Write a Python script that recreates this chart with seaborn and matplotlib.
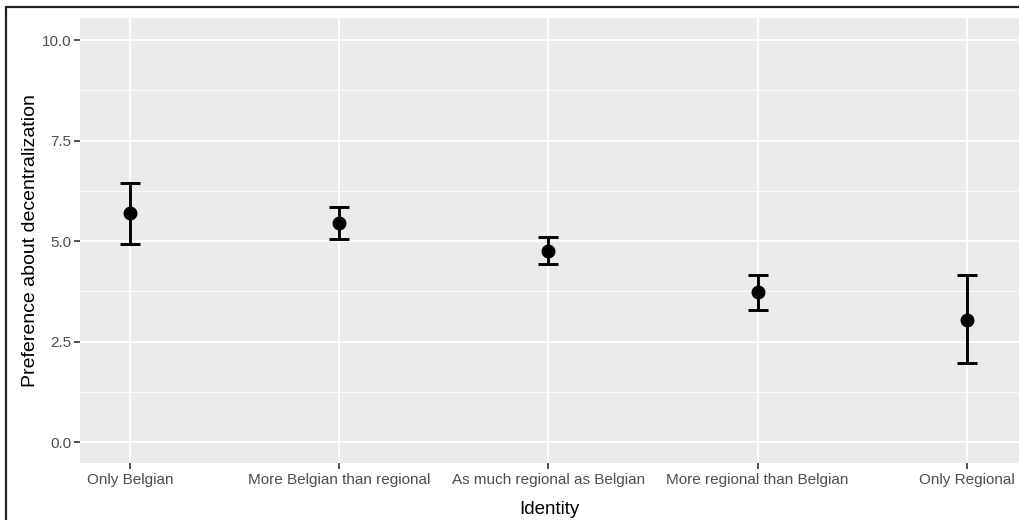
import matplotlib
matplotlib.use("Agg")
import matplotlib.pyplot as plt
from matplotlib.lines import Line2D
from matplotlib.ticker import MultipleLocator
import seaborn as sns
import pandas as pd
import numpy as np

categories = ["Only Belgian", "More Belgian than regional", "As much regional as Belgian",
              "More regional than Belgian", "Only Regional"]
means = [5.69, 5.45, 4.75, 3.73, 3.04]
lower = [4.93, 5.04, 4.43, 3.29, 1.96]
upper = [6.45, 5.86, 5.10, 4.15, 4.15]
yticks = [0.0, 2.5, 5.0, 7.5, 10.0]

sns.set_theme(style="darkgrid", rc={
    "axes.facecolor": "#EBEBEB",
    "grid.color": "white",
    "axes.edgecolor": "#EBEBEB",
    "xtick.bottom": True,
    "ytick.left": True,
})
plt.rcParams["font.family"] = ["Liberation Sans", "DejaVu Sans"]

df = pd.DataFrame({"Identity": categories, "mean": means, "lo": lower, "hi": upper})

fig = plt.figure(figsize=(10.19, 5.20), dpi=100)
W, H = 1019, 520
ax = fig.add_axes([80 / W, 1 - 463 / H, (1019 - 80) / W, (463 - 18) / H])

sns.pointplot(data=df, x="Identity", y="mean", order=categories, color="black",
              linestyle="none", errorbar=None, markersize=8, ax=ax, zorder=4)
pos = np.arange(len(categories))
m = df["mean"].to_numpy()
ax.errorbar(pos, m, yerr=[m - df["lo"].to_numpy(), df["hi"].to_numpy() - m],
            fmt="none", ecolor="black", elinewidth=2.1, capsize=7.2, capthick=2.1, zorder=3)

ax.set_xlim(-0.239, 4.249)
ax.set_ylim(-0.52, 10.55)
ax.set_yticks(yticks)
ax.set_yticklabels([f"{v:.1f}" for v in yticks])
ax.yaxis.set_minor_locator(MultipleLocator(1.25))
ax.grid(True, which="major", color="white", linewidth=1.3)
ax.grid(True, which="minor", axis="y", color="white", linewidth=0.6)
ax.set_axisbelow(True)
for s in ax.spines.values():
    s.set_visible(False)

ax.tick_params(axis="x", which="major", length=4, width=1.2, color="#333333",
               labelcolor="#4D4D4D", labelsize=11, pad=3, bottom=True)
ax.tick_params(axis="y", which="major", length=4, width=1.2, color="#333333",
               labelcolor="#4D4D4D", labelsize=11, pad=2, left=True)
ax.tick_params(axis="both", which="minor", length=0)
ax.set_xlabel("Identity", fontsize=13.5, color="black", labelpad=10)
ax.set_ylabel("Preference about decentralization", fontsize=14, color="black", labelpad=2)

# outer frame (cropped on right/bottom)
fig.add_artist(Line2D([6 / W, 6 / W], [0, 1 - 7 / H], color="#222222", linewidth=1.6,
                      transform=fig.transFigure))
fig.add_artist(Line2D([6 / W, 1], [1 - 7 / H, 1 - 7 / H], color="#222222", linewidth=1.6,
                      transform=fig.transFigure))

fig.savefig("out.png", dpi=100, facecolor="white")
